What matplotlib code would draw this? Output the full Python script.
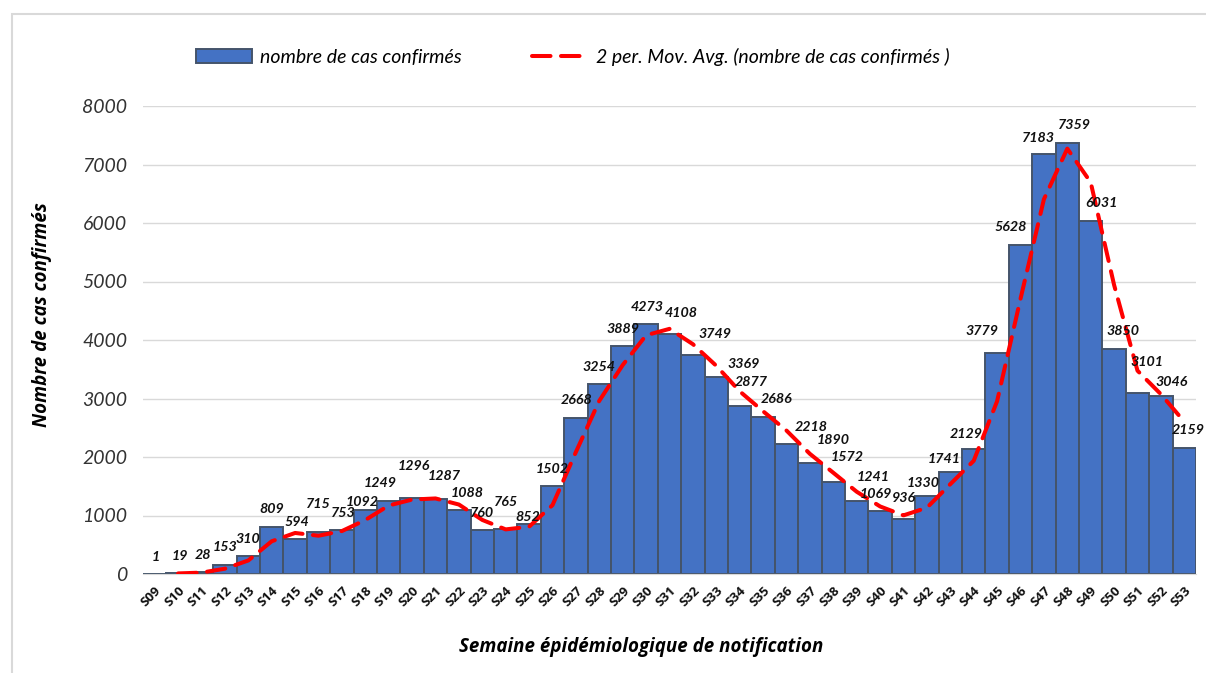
import matplotlib
matplotlib.use("Agg")
import matplotlib.pyplot as plt
from matplotlib.patches import Rectangle
import numpy as np

weeks = ["S09","S10","S11","S12","S13","S14","S15","S16","S17","S18","S19","S20","S21","S22","S23",
         "S24","S25","S26","S27","S28","S29","S30","S31","S32","S33","S34","S35","S36","S37","S38",
         "S39","S40","S41","S42","S43","S44","S45","S46","S47","S48","S49","S50","S51","S52","S53"]
cases = [1, 19, 28, 153, 310, 809, 594, 715, 753, 1092, 1249, 1296, 1287, 1088, 760,
         765, 852, 1502, 2668, 3254, 3889, 4273, 4108, 3749, 3369, 2877, 2686, 2218, 1890, 1572,
         1241, 1069, 936, 1330, 1741, 2129, 3779, 5628, 7183, 7359, 6031, 3850, 3101, 3046, 2159]
yticks = [0, 1000, 2000, 3000, 4000, 5000, 6000, 7000, 8000]

# label nudges (pixels) relative to bar centre / bar top, as placed in the original chart
label_dx = [1, 2, 1, 0, 0, 0, 2, 0, 1, -3, -9, 2, 9, 8, 0,
            0, -1, 0, 1, 0, 0, 1, 12, 22, 27, 12, 13, 25, 23, 14,
            16, -4, 0, -4, -6, -7, -15, -10, -5, 7, 11, 9, 9, 11, 4]
label_dy = [17, 17, 17, 18, 17, 18, 17, 28, 17, 8, 18, 32, 23, 17, 17,
            27, 7, 17, 18, 17, 17, 17, 21, 21, 13, 24, 18, 17, 23, 25,
            24, 17, 21, 13, 13, 15, 22, 18, 16, 18, 18, 18, 31, 14, 18]

W, H = 1206, 673
fig = plt.figure(figsize=(W/100, H/100), dpi=100)
fig.patches.append(Rectangle((12/W, -0.1), 1.2, 1 - 14/H + 0.1, transform=fig.transFigure,
                             fill=False, edgecolor="#d9d9d9", linewidth=1.5))

ax = fig.add_axes([143/W, 1-574/H, (1196-143)/W, (574-106)/H])
x = np.arange(len(weeks))
bars = ax.bar(x, cases, width=1.0, color="#4472C4", edgecolor="#44546A", linewidth=1.4, zorder=2,
              label="nombre de cas confirmés")

ma_x = x[1:]
ma_y = [(cases[i-1] + cases[i]) / 2 for i in range(1, len(cases))]
line, = ax.plot(ma_x, ma_y, color="#FF0000", linewidth=2.9, linestyle=(0, (4.6, 2.6)),
                dash_capstyle="round", zorder=3,
                label="2 per. Mov. Avg. (nombre de cas confirmés )")

for xi, v, dx, dy in zip(x, cases, label_dx, label_dy):
    ax.annotate(str(v), (xi, v), xytext=(dx, dy), textcoords="offset pixels", ha="center",
                va="center", fontsize=10.3, fontweight="bold", fontstyle="italic",
                family="Lato", color="#111111", zorder=4, annotation_clip=False)

ax.set_xlim(-0.5, len(weeks) - 0.5)
ax.set_ylim(0, 8000)
ax.set_yticks(yticks)
ax.set_yticklabels([str(t) for t in yticks], fontsize=14, fontstyle="italic", family="Lato",
                   color="#333333")
ax.set_xticks(x)
ax.set_xticklabels(weeks, rotation=45, ha="right", rotation_mode="anchor", fontsize=9.5,
                   fontweight="bold", family="Open Sans", color="#111111")
ax.tick_params(axis="both", length=0)
ax.tick_params(axis="y", pad=11.5)
ax.tick_params(axis="x", pad=7)
ax.grid(axis="y", color="#d9d9d9", linewidth=1, zorder=0)
ax.set_axisbelow(True)
for s in ["top", "right", "left"]:
    ax.spines[s].set_visible(False)
ax.spines["bottom"].set_color("#d9d9d9")

ax.set_ylabel("Nombre de cas confirmés", fontsize=13.5, fontweight="bold", fontstyle="italic",
              family="Open Sans", va="center")
ax.yaxis.set_label_coords(-(143-42)/(1196-143), (574-315)/(574-106))
ax.set_xlabel("Semaine épidémiologique de notification", fontsize=13.5, fontweight="bold",
              fontstyle="italic", family="Open Sans", va="center")
ax.xaxis.set_label_coords((641-143)/(1196-143), -(647-574)/(574-106))

leg = fig.legend(handles=[bars, line], loc="center left", bbox_to_anchor=(186/W, 1-57/H),
                 ncol=2, frameon=False, borderpad=0,
                 prop={"family": "Lato", "style": "italic", "size": 14}, columnspacing=3.6,
                 handlelength=2.9, handletextpad=0.4)

fig.savefig("out.png", dpi=100)
